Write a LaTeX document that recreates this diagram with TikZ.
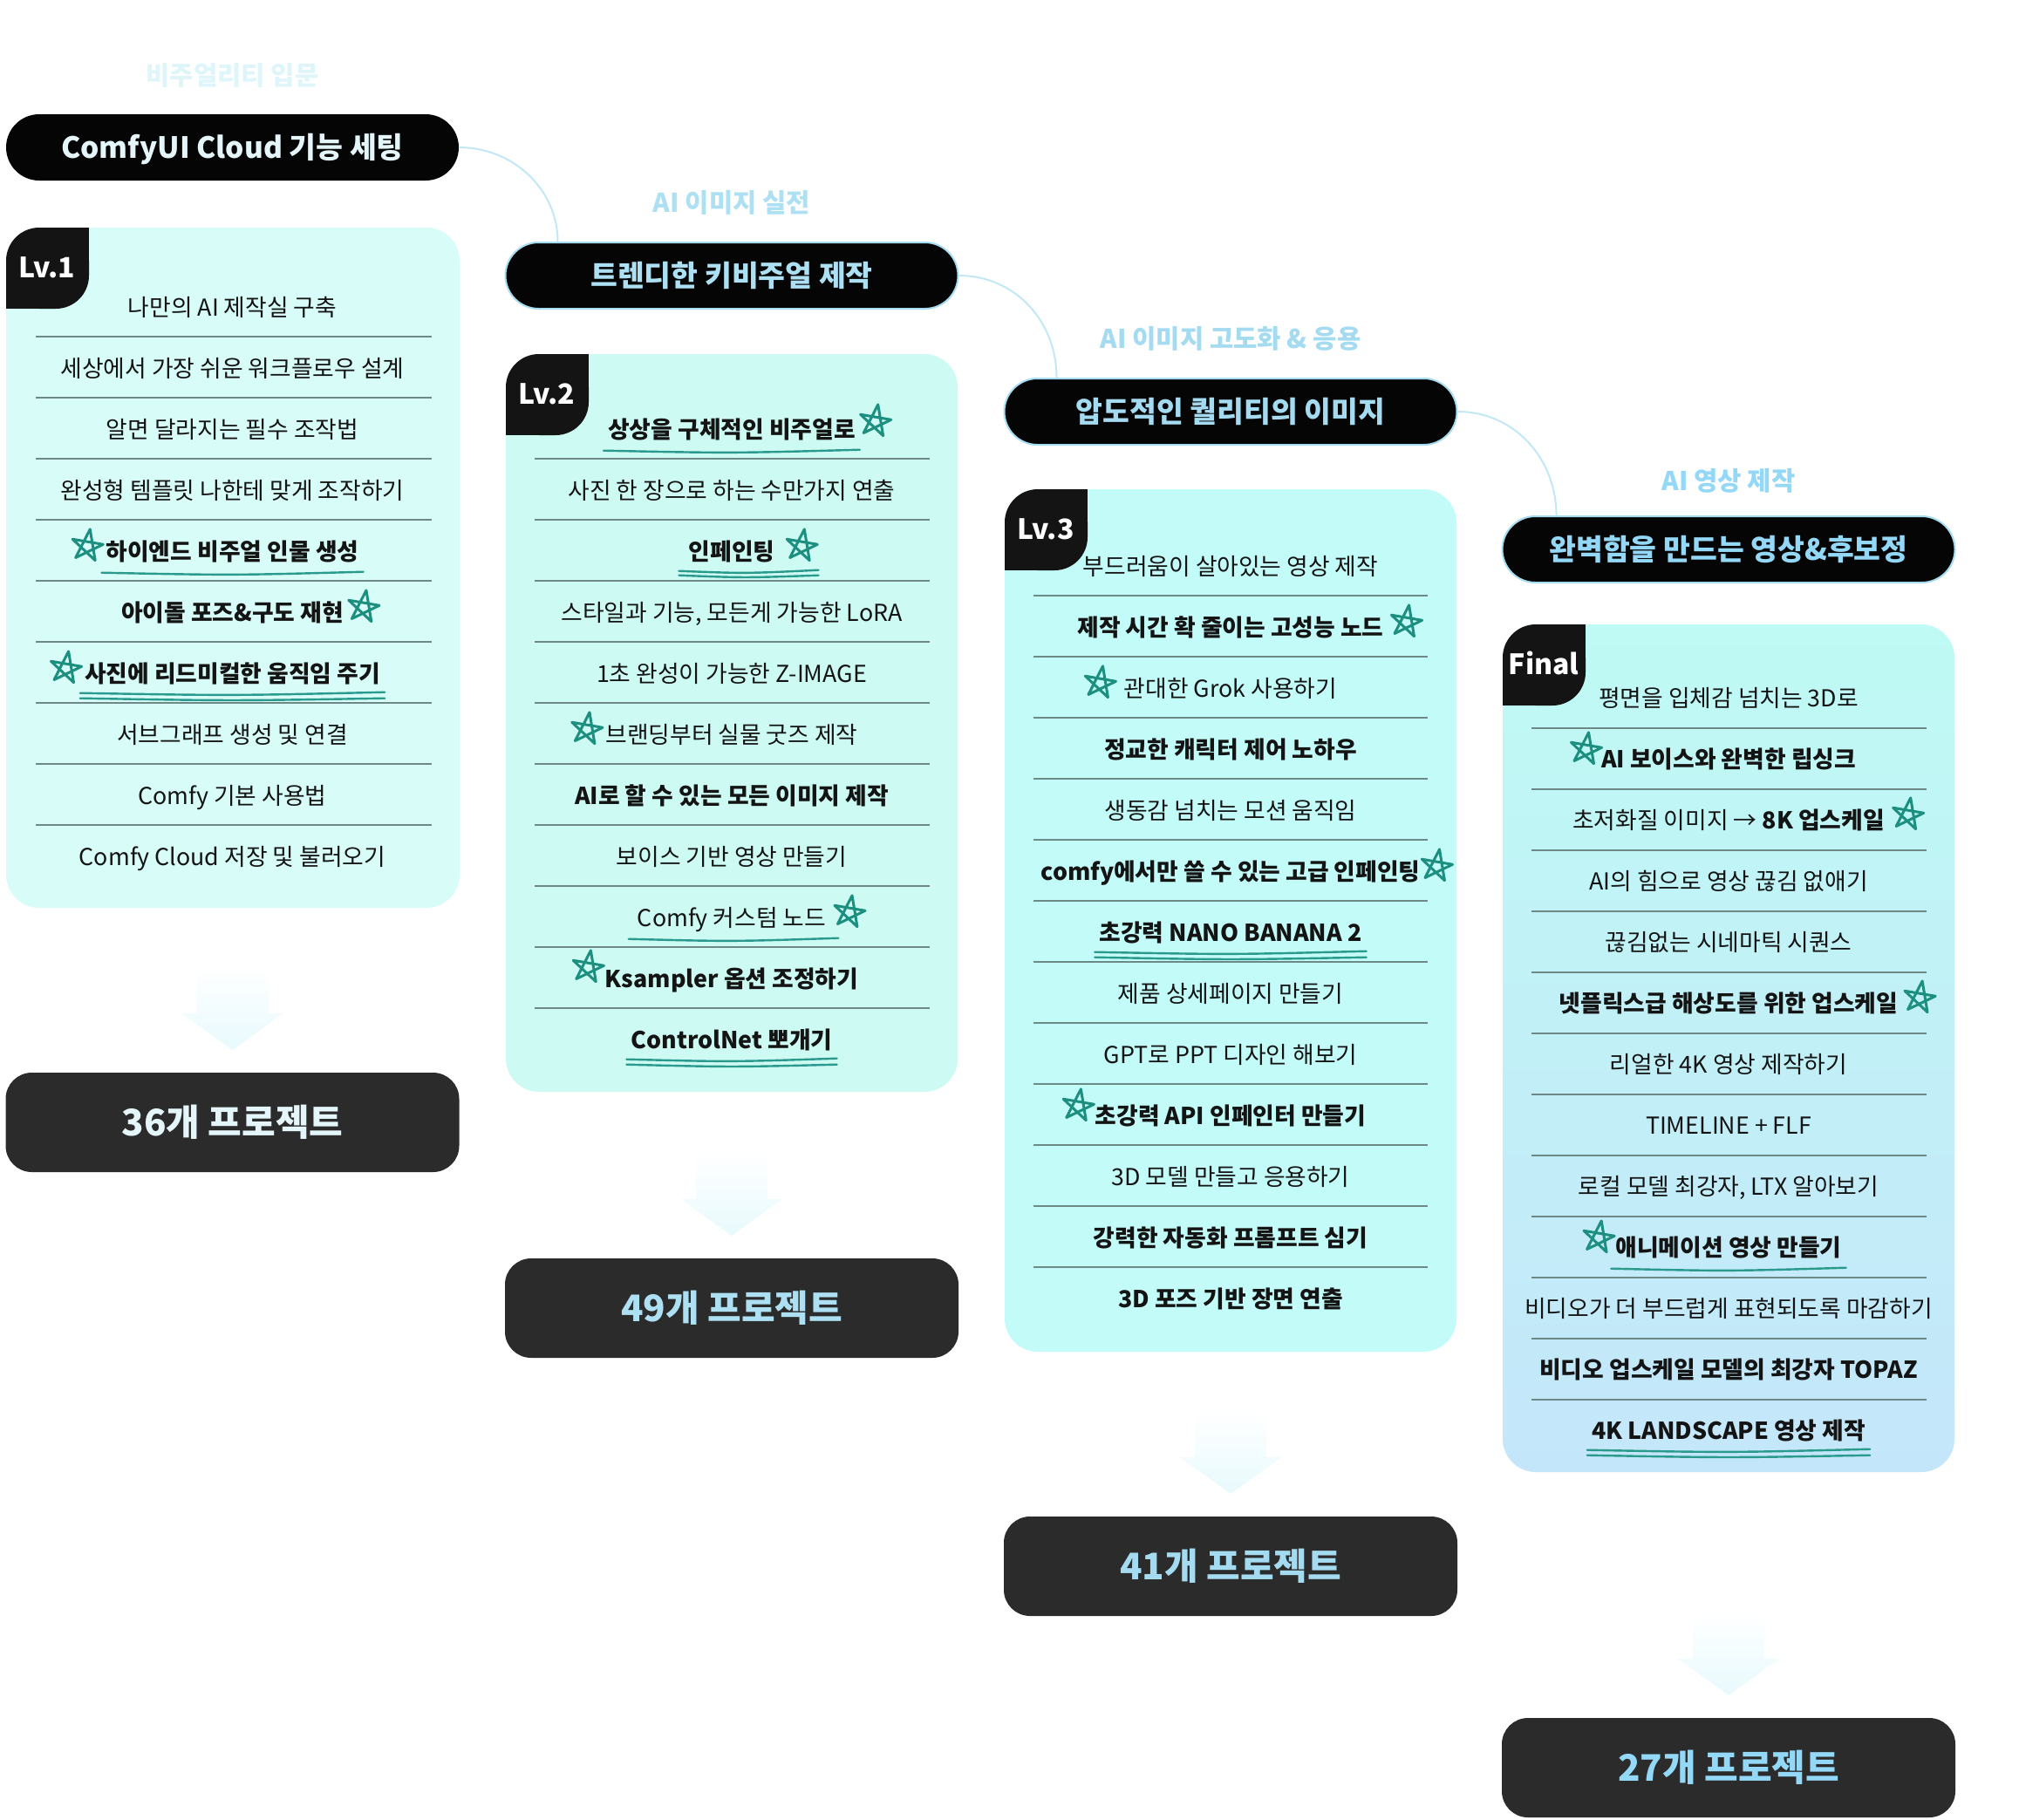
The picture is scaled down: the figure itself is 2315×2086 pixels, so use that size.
\documentclass[tikz,border=0pt]{standalone}
\usepackage{fontspec}
\setmainfont{Noto Sans CJK KR}
\usetikzlibrary{calc}
\definecolor{ink}{HTML}{141414}
\definecolor{sepc}{HTML}{6C8987}
\definecolor{starc}{HTML}{1D8F80}
\definecolor{ulc}{HTML}{2A9A8C}
\definecolor{cardA}{HTML}{D8FCF8}
\definecolor{cardB}{HTML}{CDFBF4}
\definecolor{cardC}{HTML}{C3FBF8}
\definecolor{cardDt}{HTML}{BFFAF4}
\definecolor{cardDb}{HTML}{C4E6FA}
\definecolor{pillk}{HTML}{050505}
\definecolor{pillbd}{HTML}{A6DCF1}
\definecolor{boxg}{HTML}{2B2B2B}
\definecolor{connc}{HTML}{C2E8F6}
\definecolor{arrc}{HTML}{E8FAFD}
\definecolor{tA}{HTML}{E4F6FA}
\definecolor{tB}{HTML}{ADE0F2}
\definecolor{tC}{HTML}{A4DBF1}
\definecolor{tD}{HTML}{93D8F6}
\definecolor{lA}{HTML}{DEF5FA}
\newcommand\LStar[2][0]{\pic at ($(#2.west)+(-22-#1,-7)$) {dstar};}
\newcommand\RStar[2][0]{\pic at ($(#2.east)+(22+#1,-7)$) {dstar};}
\newcommand\ULine[1]{\draw[uline] ($(#1.south west)+(-5,12)$) .. controls ($(#1.south)+(0,15)$) .. ($(#1.south east)+(5,11)$);}
\newcommand\DLine[1]{\draw[uline] ($(#1.south west)+(-5,10)$) .. controls ($(#1.south)+(0,13)$) .. ($(#1.south east)+(5,9)$);
  \draw[uline] ($(#1.south west)+(-5,16)$) .. controls ($(#1.south)+(0,19)$) .. ($(#1.south east)+(5,16)$);}
\newcommand\Badge[3]{%
  \fill[ink,rounded corners=38] (#1,#2) rectangle ({#1+95},{#2+93});
  \fill[ink] ({#1+50},#2) rectangle ({#1+95},{#2+44});
  \fill[ink] (#1,{#2+48}) rectangle ({#1+46},{#2+93});
  \node[lvtxt] (lv#3) at ({#1+47},{#2+46}) {#3};}
\newcommand\Arrow[2]{%
  \shade[top color=white, bottom color=arrc] ({#1-41},{#2-96}) -- ({#1+41},{#2-96}) -- ({#1+41},{#2-42}) -- ({#1+58},{#2-42}) -- (#1,#2) -- ({#1-58},{#2-42}) -- ({#1-41},{#2-42}) -- cycle;}
\begin{document}
\begin{tikzpicture}[x=1pt,y=-1pt,
  itm/.style={font=\fontsize{26.8}{32}\selectfont, text=ink, inner sep=0pt, text height=21.4pt, text depth=1.6pt},
  itmb/.style={itm, font=\fontsize{26.8}{32}\selectfont\bfseries},
  lbl/.style={font=\fontsize{29.7}{35}\selectfont\bfseries, inner sep=0pt, text height=23.8pt, text depth=1.8pt},
  pill/.style={fill=pillk, rounded corners=38, minimum width=519, minimum height=76, inner sep=0pt,
     font=\fontsize{33.5}{40}\selectfont\bfseries, text height=26.8pt, text depth=2pt},
  pillb/.style={pill, draw=pillbd, line width=2pt},
  boxn/.style={fill=boxg, rounded corners=30, minimum width=520, minimum height=114, inner sep=0pt,
     font=\fontsize{42}{50}\selectfont\bfseries, text height=33.6pt, text depth=2.5pt},
  lvtxt/.style={font=\fontsize{32}{38}\selectfont\bfseries, text=white, inner sep=0pt, text height=23.4pt, text depth=0pt},
  sepline/.style={draw=sepc, line width=1.4pt},
  conn/.style={draw=connc, line width=2pt},
  uline/.style={draw=ulc, line width=2.4pt, line cap=round},
  dstar/.pic={\draw[starc, line width=3pt, line cap=round, line join=round, rotate=-8, scale=1.08]
     (1,-18) -- (-10,14) -- (17,-4) -- (-16,-5) -- (11,14) -- cycle;}
]
\useasboundingbox (0,0) rectangle (2315,2086);
\fill[white] (0,0) rectangle (2315,2086);

% ---------------- section labels
\node[lbl, text=lA] (lab1) at (266.5,86) {비주얼리티 입문};
\node[lbl, text=tB] (lab2) at (839,232) {AI 이미지 실전};
\node[lbl, text=tC] (lab3) at (1411,388) {AI 이미지 고도화 \& 응용};
\node[lbl, text=tD] (lab4) at (1982,551) {AI 영상 제작};

% ---------------- pills
\node[pill, text=tA] (p1) at (266.5,169) {ComfyUI Cloud 기능 세팅};
\node[pillb, text=tB] (p2) at (839,316) {트렌디한 키비주얼 제작};
\node[pillb, text=tC] (p3) at (1411,472) {압도적인 퀄리티의 이미지};
\node[pillb, text=tD] (p4) at (1982,630) {완벽함을 만드는 영상\&후보정};

\coordinate (e2) at ($(p2.north west)+(61,0)$);
\coordinate (e3) at ($(p3.north west)+(61,0)$);
\coordinate (e4) at ($(p4.north west)+(63,0)$);
\draw[conn] (p1.east) .. controls +(63,0) and +(0,-59) .. (e2);
\draw[conn] (p2.east) .. controls +(64,0) and +(0,-65) .. (e3);
\draw[conn] (p3.east) .. controls +(64,0) and +(0,-66) .. (e4);

% ---------------- cards
\fill[cardA, rounded corners=38] (7,261) rectangle (527,1041);
\fill[cardB, rounded corners=38] (580,406) rectangle (1098,1252);
\fill[cardC, rounded corners=38] (1152,561) rectangle (1670,1550);
\shade[top color=cardDt, bottom color=cardDb, rounded corners=38] (1723,716) rectangle (2241,1688);

\Badge{7}{261}{Lv.1}
\Badge{580}{406}{Lv.2}
\Badge{1152}{561}{Lv.3}
\Badge{1723}{716}{Final}

% separators
\foreach \k in {0,...,8} \draw[sepline] (41,{386+70*\k}) -- (495,{386+70*\k});
\foreach \k in {0,...,9} \draw[sepline] (613,{526+70*\k}) -- (1066,{526+70*\k});
\foreach \k in {0,...,11} \draw[sepline] (1185,{683+70*\k}) -- (1637,{683+70*\k});
\foreach \k in {0,...,11} \draw[sepline] (1756,{835+70*\k}) -- (2209,{835+70*\k});

% ---------------- column 1
\node[itm]  (a0) at (266.5,353) {나만의 AI 제작실 구축};
\node[itm]  (a1) at (266.5,423) {세상에서 가장 쉬운 워크플로우 설계};
\node[itm]  (a2) at (266.5,493) {알면 달라지는 필수 조작법};
\node[itm]  (a3) at (266.5,563) {완성형 템플릿 나한테 맞게 조작하기};
\node[itmb] (a4) at (266.5,633) {하이엔드 비주얼 인물 생성};
\node[itmb] (a5) at (266.5,703) {아이돌 포즈\&구도 재현};
\node[itmb] (a6) at (266.5,773) {사진에 리드미컬한 움직임 주기};
\node[itm]  (a7) at (266.5,843) {서브그래프 생성 및 연결};
\node[itm]  (a8) at (266.5,913) {Comfy 기본 사용법};
\node[itm]  (a9) at (266.5,983) {Comfy Cloud 저장 및 불러오기};
\LStar{a4}\ULine{a4}
\RStar{a5}
\LStar{a6}\DLine{a6}

% ---------------- column 2
\node[itmb] (b0) at (839,493) {상상을 구체적인 비주얼로};
\node[itm]  (b1) at (839,563) {사진 한 장으로 하는 수만가지 연출};
\node[itmb] (b2) at (839,633) {인페인팅};
\node[itm]  (b3) at (839,703) {스타일과 기능, 모든게 가능한 LoRA};
\node[itm]  (b4) at (839,773) {1초 완성이 가능한 Z-IMAGE};
\node[itm]  (b5) at (839,843) {브랜딩부터 실물 굿즈 제작};
\node[itmb] (b6) at (839,913) {AI로 할 수 있는 모든 이미지 제작};
\node[itm]  (b7) at (839,983) {보이스 기반 영상 만들기};
\node[itm]  (b8) at (839,1053) {Comfy 커스텀 노드};
\node[itmb] (b9) at (839,1123) {Ksampler 옵션 조정하기};
\node[itmb] (b10) at (839,1193) {ControlNet 뽀개기};
\pic at ($(b0.east)+(22,-10)$) {dstar}; \ULine{b0}
\RStar[8]{b2}
\draw[uline] ($(b2.south west)+(-11,10)$) .. controls ($(b2.south)+(15,13)$) .. ($(b2.south east)+(50,9)$);
\draw[uline] ($(b2.south west)+(-11,15)$) .. controls ($(b2.south)+(15,18)$) .. ($(b2.south east)+(50,15)$);
\LStar{b5}
\RStar[4]{b8}
\draw[uline] ($(b8.south west)+(-10,12)$) .. controls ($(b8.south)+(0,15)$) .. ($(b8.south east)+(14,11)$);
\pic at ($(b9.west)+(-20,-14)$) {dstar};
\DLine{b10}

% ---------------- column 3
\node[itm]  (c0) at (1411,650) {부드러움이 살아있는 영상 제작};
\node[itmb] (c1) at (1411,720) {제작 시간 확 줄이는 고성능 노드};
\node[itm]  (c2) at (1411,790) {관대한 Grok 사용하기};
\node[itmb] (c3) at (1411,860) {정교한 캐릭터 제어 노하우};
\node[itm]  (c4) at (1411,930) {생동감 넘치는 모션 움직임};
\node[itmb] (c5) at (1411,1000) {comfy에서만 쓸 수 있는 고급 인페인팅};
\node[itmb] (c6) at (1411,1070) {초강력 NANO BANANA 2};
\node[itm]  (c7) at (1411,1140) {제품 상세페이지 만들기};
\node[itm]  (c8) at (1411,1210) {GPT로 PPT 디자인 해보기};
\node[itmb] (c9) at (1411,1280) {초강력 API 인페인터 만들기};
\node[itm]  (c10) at (1411,1350) {3D 모델 만들고 응용하기};
\node[itmb] (c11) at (1411,1420) {강력한 자동화 프롬프트 심기};
\node[itmb] (c12) at (1411,1490) {3D 포즈 기반 장면 연출};
\RStar[3]{c1}
\LStar[6]{c2}
\RStar[-4]{c5}
\DLine{c6}
\pic at ($(c9.west)+(-20,-12)$) {dstar};

% ---------------- column 4
\node[itm]  (d0) at (1982,801) {평면을 입체감 넘치는 3D로};
\node[itmb] (d1) at (1982,871) {AI 보이스와 완벽한 립싱크};
\node[itm]  (d2) at (1982,941) {초저화질 이미지 → \textbf{8K 업스케일}};
\node[itm]  (d3) at (1982,1011) {AI의 힘으로 영상 끊김 없애기};
\node[itm]  (d4) at (1982,1081) {끊김없는 시네마틱 시퀀스};
\node[itmb] (d5) at (1982,1151) {넷플릭스급 해상도를 위한 업스케일};
\node[itm]  (d6) at (1982,1221) {리얼한 4K 영상 제작하기};
\node[itm]  (d7) at (1982,1291) {TIMELINE + FLF};
\node[itm]  (d8) at (1982,1361) {로컬 모델 최강자, LTX 알아보기};
\node[itmb] (d9) at (1982,1431) {애니메이션 영상 만들기};
\node[itm]  (d10) at (1982,1501) {비디오가 더 부드럽게 표현되도록 마감하기};
\node[itmb] (d11) at (1982,1571) {비디오 업스케일 모델의 최강자 TOPAZ};
\node[itmb] (d12) at (1982,1641) {4K LANDSCAPE 영상 제작};
\pic at ($(d1.west)+(-18,-12)$) {dstar};
\RStar[4]{d2}
\RStar[2]{d5}
\pic at ($(d9.west)+(-20,-12)$) {dstar}; \ULine{d9}
\DLine{d12}

% ---------------- arrows and project boxes
\Arrow{266.5}{1204}
\Arrow{839}{1417}
\Arrow{1411}{1713}
\Arrow{1982}{1944}
\node[boxn, text=tA] (b1box) at (266.5,1287) {36개 프로젝트};
\node[boxn, text=tB] (b2box) at (839,1500) {49개 프로젝트};
\node[boxn, text=tC] (b3box) at (1411,1796) {41개 프로젝트};
\node[boxn, text=tD] (b4box) at (1982,2027) {27개 프로젝트};
\end{tikzpicture}
\end{document}
